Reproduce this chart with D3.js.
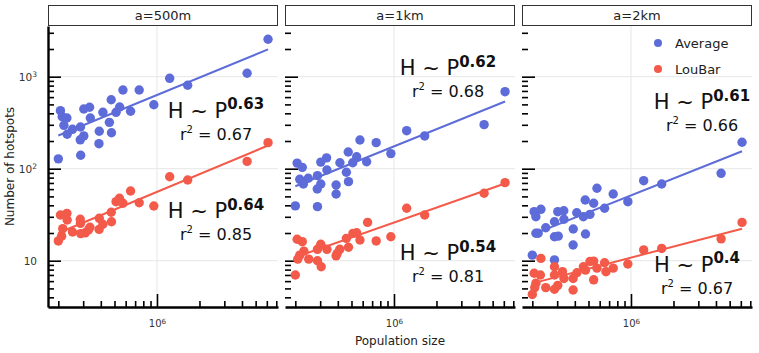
<!DOCTYPE html>
<html>
<head>
<meta charset="utf-8">
<script src="https://cdn.jsdelivr.net/npm/d3@7"></script>
<style>
body { margin: 0; background: #fff; }
svg { font-family: 'DejaVu Sans', sans-serif; }
</style>
</head>
<body>
<svg id="chart"></svg>
<script>
const panelTitles = ['a=500m', 'a=1km', 'a=2km'];
const seriesNames = ['Average', 'LouBar'];

// [population, number of hotspots]
const avg500 = [[6.12e6, 2550], [4.35e6, 1090], [1.23e6, 960], [1.65e6, 807], [5.74e5, 716], [7.48e5, 716],
  [4.74e5, 562], [9.5e5, 496], [5.44e5, 469], [3.33e5, 465], [3.03e5, 445], [2.07e5, 427], [4.14e5, 410],
  [6.5e5, 421], [5.13e5, 410], [2.13e5, 367], [2.3e5, 356], [3.37e5, 356], [2.19e5, 296], [2.52e5, 268],
  [2.87e5, 284], [4.6e5, 319], [2.31e5, 237], [3.9e5, 255], [4.76e5, 246], [3.03e5, 227], [2.86e5, 206],
  [3.88e5, 187], [2.88e5, 140], [2.0e5, 128]];
const lou500 = [[6.12e6, 192], [4.35e6, 120], [1.23e6, 81.8], [1.65e6, 75.3], [6.5e5, 57.3], [5.42e5, 47.7],
  [5.13e5, 43.8], [5.74e5, 42.1], [7.48e5, 42.7], [9.5e5, 39.3], [4.74e5, 33.6], [2.07e5, 31.4], [2.3e5, 32.7],
  [2.31e5, 27.7], [2.86e5, 28.2], [3.9e5, 28.9], [4.76e5, 26.5], [2.87e5, 25.5], [4.14e5, 24.9], [2.15e5, 22.3],
  [3.35e5, 23.1], [3.89e5, 21.9], [2.52e5, 20.5], [2.88e5, 19.7], [3.1e5, 20.1], [3.27e5, 21.6], [2.11e5, 18.5],
  [2.0e5, 16.4]];
const avg1k = [[6.12e6, 687], [4.35e6, 301], [1.23e6, 259], [1.65e6, 227], [5.74e5, 205], [7.48e5, 192],
  [4.74e5, 152], [9.5e5, 146], [5.44e5, 135], [3.33e5, 131], [3.03e5, 118], [2.06e5, 115], [4.14e5, 116],
  [6.4e5, 119], [5.1e5, 116], [2.24e5, 103.5], [3.35e5, 96.8], [2.87e5, 84], [2.47e5, 78.7], [2.15e5, 76.7],
  [2.28e5, 68.2], [3.03e5, 68.2], [4.6e5, 91.4], [4.76e5, 72.3], [3.89e5, 66.5], [2.86e5, 60.1], [3.89e5, 53.1],
  [2.0e5, 39.4], [2.87e5, 38.7]];
const lou1k = [[6.12e6, 70.5], [4.35e6, 54.1], [1.65e6, 31.4], [1.23e6, 37.2], [6.5e5, 26.1], [9.5e5, 18.2],
  [7.48e5, 16.4], [5.74e5, 16.8], [5.44e5, 20.1], [5.12e5, 19.8], [4.6e5, 17.5], [4.76e5, 14.0], [4.13e5, 13.3],
  [3.89e5, 11.3], [3.35e5, 13.3], [3.03e5, 15.1], [2.87e5, 13.3], [2.87e5, 10.0], [3.05e5, 8.6], [2.49e5, 10.4],
  [2.3e5, 12.7], [2.24e5, 16.1], [2.06e5, 17.1], [2.15e5, 11.5], [2.08e5, 10.4], [2.0e5, 7.0], [3.96e5, 12.0]];
const avg2k = [[6.12e6, 194], [4.35e6, 89.1], [1.23e6, 74.1], [1.65e6, 68.2], [5.74e5, 61.3], [7.48e5, 53.1],
  [4.74e5, 45.7], [9.5e5, 43.8], [5.44e5, 42.1], [6.5e5, 37.2], [5.12e5, 31.9], [4.13e5, 33.2], [4.6e5, 30.1],
  [3.34e5, 34.9], [3.03e5, 34.1], [3.35e5, 28.2], [2.3e5, 36.2], [2.06e5, 34.1], [2.12e5, 30.1], [2.87e5, 26.5],
  [2.49e5, 22.8], [2.2e5, 19.9], [2.12e5, 19.9], [2.87e5, 18.2], [3.05e5, 18.5], [3.9e5, 22.1], [4.76e5, 19.5],
  [3.89e5, 14.8], [2.0e5, 11.5], [2.87e5, 10.2]];
const lou2k = [[6.12e6, 26.1], [4.35e6, 17.3], [1.65e6, 13.6], [1.23e6, 13.1], [9.5e5, 9.2], [7.48e5, 8.3],
  [6.5e5, 9.5], [5.44e5, 9.9], [5.12e5, 9.8], [5.74e5, 8.3], [4.6e5, 8.6], [4.76e5, 7.9], [4.14e5, 7.4],
  [3.89e5, 6.4], [6.65e5, 7.6], [5.44e5, 6.2], [3.89e5, 4.8], [3.35e5, 6.4], [3.27e5, 7.6], [2.87e5, 8.6],
  [2.87e5, 7.0], [3.03e5, 5.4], [2.87e5, 4.9], [2.49e5, 5.1], [2.3e5, 10.6], [2.28e5, 7.0], [2.06e5, 7.3],
  [2.12e5, 5.7], [2.08e5, 5.1], [2.0e5, 4.3]];

const avgData = [avg500, avg1k, avg2k];
const louData = [lou500, lou1k, lou2k];

// power-law fits H = c * (P / 1e6)^k
const avgExp = [0.63, 0.62, 0.61];
const louExp = [0.64, 0.54, 0.4];
const avgAt1M = [632, 175, 51.2];
const louAt1M = [56, 26, 10.8];
const avgR2 = [0.67, 0.68, 0.66];
const louR2 = [0.85, 0.81, 0.67];

const xDomain = [1.69e5, 7.2e6];
const yDomain = [3.14, 3556];
const xMajor = [1e6];
const yMajor = [10, 100, 1000];

const width = 759, height = 353;
const panelLeft = [48, 285, 522];
const panelW = 230, plotTop = 26, plotH = 281, stripTop = 5;
// annotation anchors inside each panel: [centre x, baseline y] for Average / LouBar
const avgLabelPos = [[168, 91.7], [163, 49.3], [180, 83.3]];
const louLabelPos = [[168, 192.3], [163, 234], [175, 245.7]];

const colors = { Average: '#5d6cd8', LouBar: '#f35a4a' };

const svg = d3.select('#chart').attr('width', width).attr('height', height);

const x = d3.scaleLog().domain(xDomain).range([0, panelW]);
const y = d3.scaleLog().domain(yDomain).range([plotH, 0]);

const xMinor = x.ticks().filter(t => !xMajor.includes(t));
const yMinor = y.ticks().filter(t => !yMajor.includes(t));

function powerLabel(sel) {
  sel.each(function(d) {
    const e = Math.round(Math.log10(d));
    const t = d3.select(this).text(null);
    t.append('tspan').text('10');
    if (e > 1) t.append('tspan').attr('dy', '-0.45em').attr('font-size', '0.72em').text(e);
  });
}

const line = d3.line().x(d => x(d[0])).y(d => y(d[1]));

panelTitles.forEach((title, i) => {
  const g = svg.append('g').attr('transform', `translate(${panelLeft[i]},${plotTop})`);

  // grid
  g.selectAll('.gx').data(xMajor).join('line').attr('class', 'gx')
    .attr('x1', d => x(d)).attr('x2', d => x(d)).attr('y1', 0).attr('y2', plotH)
    .attr('stroke', '#e6e6e6').attr('stroke-width', 1);
  g.selectAll('.gy').data(yMajor).join('line').attr('class', 'gy')
    .attr('x1', 0).attr('x2', panelW).attr('y1', d => y(d)).attr('y2', d => y(d))
    .attr('stroke', '#e6e6e6').attr('stroke-width', 1);

  // strip
  svg.append('rect')
    .attr('x', panelLeft[i] + 0.5).attr('y', stripTop + 0.5)
    .attr('width', panelW - 1).attr('height', plotTop - stripTop - 1)
    .attr('fill', '#fff').attr('stroke', '#333').attr('stroke-width', 1);
  svg.append('text')
    .attr('x', panelLeft[i] + panelW / 2).attr('y', stripTop + 15)
    .attr('text-anchor', 'middle').attr('font-size', 13).attr('fill', '#222')
    .text(title);

  // x axis
  const xa = g.append('g').attr('transform', `translate(0,${plotH})`);
  xa.append('g').call(d3.axisBottom(x).tickValues(xMinor).tickSizeInner(-6).tickSizeOuter(0).tickFormat(''));
  xa.append('g').call(d3.axisBottom(x).tickValues(xMajor).tickSizeInner(-13).tickSizeOuter(0).tickPadding(13))
    .call(a => a.select('.domain').remove())
    .selectAll('text').attr('font-size', 10).attr('fill', '#333').attr('font-family', 'DejaVu Sans')
    .call(powerLabel);
  xa.selectAll('.domain').attr('stroke', '#000').attr('stroke-width', 2.4);
  xa.selectAll('.tick line').attr('stroke', '#000').attr('stroke-width', 1.6);

  // y axis
  const ya = g.append('g');
  ya.append('g').call(d3.axisLeft(y).tickValues(yMinor).tickSizeInner(-6).tickSizeOuter(0).tickFormat(''));
  ya.append('g').call(d3.axisLeft(y).tickValues(yMajor).tickSizeInner(-13).tickSizeOuter(0).tickPadding(11))
    .call(a => a.select('.domain').remove())
    .selectAll('text').attr('font-size', 10.5).attr('fill', '#333').attr('font-family', 'DejaVu Sans')
    .call(powerLabel);
  if (i > 0) ya.selectAll('.domain').remove();
  if (i > 0) ya.selectAll('.tick text').remove();
  ya.selectAll('.domain').attr('stroke', '#000').attr('stroke-width', 2.4);
  ya.selectAll('.tick line').attr('stroke', '#000').attr('stroke-width', 1.6);

  // series
  const series = [
    { name: 'Average', data: avgData[i], k: avgExp[i], c: avgAt1M[i], r2: avgR2[i], pos: avgLabelPos[i] },
    { name: 'LouBar', data: louData[i], k: louExp[i], c: louAt1M[i], r2: louR2[i], pos: louLabelPos[i] }
  ];

  series.forEach(s => {
    g.append('g').selectAll('circle').data(s.data).join('circle')
      .attr('cx', d => x(d[0])).attr('cy', d => y(d[1])).attr('r', 4.7)
      .attr('fill', colors[s.name]);
    const [p0, p1] = d3.extent(s.data, d => d[0]);
    const fit = [p0, p1].map(p => [p, s.c * Math.pow(p / 1e6, s.k)]);
    g.append('path').datum(fit).attr('d', line)
      .attr('fill', 'none').attr('stroke', colors[s.name]).attr('stroke-width', 2);

    const t = g.append('text').attr('x', s.pos[0]).attr('y', s.pos[1])
      .attr('text-anchor', 'middle').attr('fill', '#111');
    t.append('tspan').attr('font-size', 21).text('H ~ P');
    t.append('tspan').attr('font-size', 15).attr('font-weight', 'bold').attr('dy', -8.5).text(s.k);
    const r = g.append('text').attr('x', s.pos[0]).attr('y', s.pos[1] + 22)
      .attr('text-anchor', 'middle').attr('fill', '#111').attr('font-size', 16);
    r.append('tspan').text('r');
    r.append('tspan').attr('font-size', 10).attr('dy', -7).text('2');
    r.append('tspan').attr('dy', 7).text(' = ' + s.r2.toFixed(2));
  });
});

// legend inside the last panel
const legend = svg.append('g').attr('transform', 'translate(658,43)');
seriesNames.forEach((n, j) => {
  legend.append('circle').attr('cx', 0).attr('cy', j * 26).attr('r', 4).attr('fill', colors[n]);
  legend.append('text').attr('x', 17).attr('y', j * 26 + 4.5).attr('font-size', 13).attr('fill', '#222').text(n);
});

// axis titles
svg.append('text')
  .attr('transform', `translate(14,${plotTop + plotH / 2}) rotate(-90)`)
  .attr('text-anchor', 'middle').attr('font-size', 12).attr('fill', '#222')
  .text('Number of hotspots');
svg.append('text')
  .attr('x', panelLeft[1] + panelW / 2).attr('y', 345)
  .attr('text-anchor', 'middle').attr('font-size', 12).attr('fill', '#222')
  .text('Population size');
</script>
</body>
</html>
